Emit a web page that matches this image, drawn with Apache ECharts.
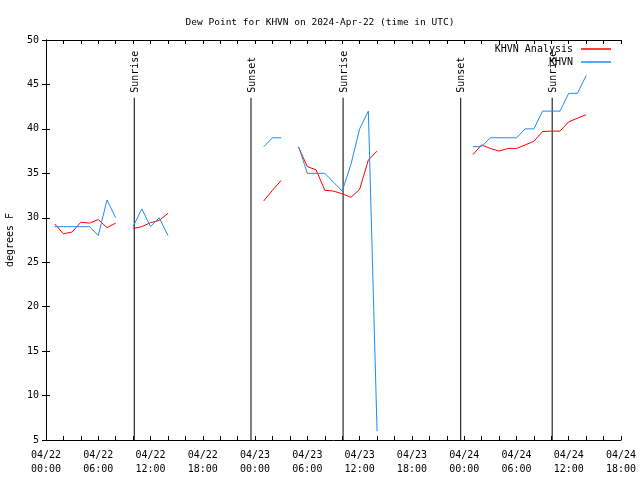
<!DOCTYPE html>
<html><head><meta charset="utf-8">
<script src="https://cdn.jsdelivr.net/npm/echarts@6/dist/echarts.min.js"></script>
<style>html,body{margin:0;padding:0;background:#fff}#c{width:640px;height:480px}</style>
</head><body><div id="c"></div>
<script>
// hours since 2024-04-22 00:00 UTC
const hours = [];
for (let h = 0; h <= 62; h++) hours.push(h);
const N = null;
const analysisValues = [
  N, 29.3, 28.2, 28.4, 29.5, 29.4, 29.8, 28.9, 29.4, N,
  28.8, 29.0, 29.45, 29.7, 30.5, N, N, N, N, N,
  N, N, N, N, N, 31.9, 33.1, 34.2, N, 37.9,
  35.75, 35.4, 33.1, 33.0, 32.7, 32.3, 33.2, 36.5, 37.5, N,
  N, N, N, N, N, N, N, N, N, 37.1,
  38.2, 37.8, 37.5, 37.8, 37.8, 38.2, 38.6, 39.7, 39.75, 39.75,
  40.8, 41.2, 41.6
];
const obsValues = [
  N, 29, 29, 29, 29, 29, 28, 32, 30, N,
  29, 31, 29, 30, 28, N, N, N, N, N,
  N, N, N, N, N, 38, 39, 39, N, 38,
  35, 35, 35, 34, 33, 36, 40, 42, 6, N,
  N, N, N, N, N, N, N, N, N, 38,
  38, 39, 39, 39, 39, 40, 40, 42, 42, 42,
  44, 44, 46
];
const xTickLabels = ['04/22\n00:00','04/22\n06:00','04/22\n12:00','04/22\n18:00',
  '04/23\n00:00','04/23\n06:00','04/23\n12:00','04/23\n18:00',
  '04/24\n00:00','04/24\n06:00','04/24\n12:00','04/24\n18:00'];
const sunHours = [10.13, 23.53, 34.1, 47.6, 58.1];
const sunLabels = ['Sunrise', 'Sunset', 'Sunrise', 'Sunset', 'Sunrise'];

const FONT = 'DejaVu Sans Mono';
const pairs = vals => hours.map((h, i) => [h, vals[i]]);

const chart = echarts.init(document.getElementById('c'), null, {renderer: 'canvas'});
const axisCommon = {
  axisLine: {show: true, lineStyle: {color: '#000', width: 1}},
  axisTick: {show: true, inside: true, length: 4, lineStyle: {color: '#000'}},
  splitLine: {show: false}
};
chart.setOption({
  animation: false,
  backgroundColor: '#fff',
  title: {text: 'Dew Point for KHVN on 2024-Apr-22 (time in UTC)', left: 'center', top: 13,
    textStyle: {fontFamily: FONT, fontSize: 9.5, fontWeight: 'normal', color: '#000'}},
  legend: {
    orient: 'vertical', right: 24, top: 39, align: 'right', itemGap: 3,
    itemWidth: 30, itemHeight: 1.5, icon: 'rect',
    textStyle: {fontFamily: FONT, fontSize: 10, color: '#000', padding: [0, 3, 0, 0]},
    data: ['KHVN Analysis', 'KHVN']
  },
  grid: {left: 46, right: 19, top: 40, bottom: 40, containLabel: false, outerBoundsMode: 'none'},
  xAxis: [
    Object.assign({type: 'value', min: 0, max: 66, interval: 2, position: 'bottom',
      axisLabel: {fontFamily: FONT, fontSize: 10, color: '#000', lineHeight: 14, margin: 8,
        formatter: v => (v % 6 === 0 ? xTickLabels[v / 6] : '')}}, axisCommon),
    Object.assign({type: 'value', min: 0, max: 66, interval: 2, position: 'top',
      axisLabel: {show: false}}, axisCommon)
  ],
  yAxis: [
    Object.assign({type: 'value', min: 5, max: 50, interval: 5, position: 'left',
      name: 'degrees F', nameLocation: 'middle', nameGap: 31, nameRotate: 90,
      nameTextStyle: {fontFamily: FONT, fontSize: 10, color: '#000'},
      axisLabel: {fontFamily: FONT, fontSize: 10, color: '#000', margin: 7}}, axisCommon),
    Object.assign({type: 'value', min: 5, max: 50, interval: 5, position: 'right',
      axisLabel: {show: false}}, axisCommon)
  ],
  series: [
    {name: 'KHVN Analysis', type: 'line', data: pairs(analysisValues), showSymbol: false,
      symbol: 'none', connectNulls: false, color: '#ff0000', lineStyle: {width: 1, color: '#ff0000'}, z: 3},
    {name: 'KHVN', type: 'line', data: pairs(obsValues), showSymbol: false,
      symbol: 'none', connectNulls: false, color: '#1e8cf0', lineStyle: {width: 1, color: '#1e8cf0'}, z: 4},
    {name: 'sun', type: 'custom', data: sunHours.map((h, i) => [h, i]), z: 2,
      renderItem: (params, api) => {
        const h = api.value(0);
        const i = api.value(1);
        const pb = api.coord([h, 5]);
        const pt = api.coord([h, 43.5]);
        return {type: 'group', children: [
          {type: 'line', shape: {x1: pb[0], y1: pb[1], x2: pt[0], y2: pt[1]},
            style: {stroke: '#000', lineWidth: 1}},
          {type: 'text', x: pt[0] + 1, y: pt[1] - 5, rotation: Math.PI / 2,
            style: {text: sunLabels[i], fontFamily: FONT, fontSize: 10, fill: '#000',
              textAlign: 'left', textVerticalAlign: 'middle'}}
        ]};
      }}
  ]
});
</script></body></html>
